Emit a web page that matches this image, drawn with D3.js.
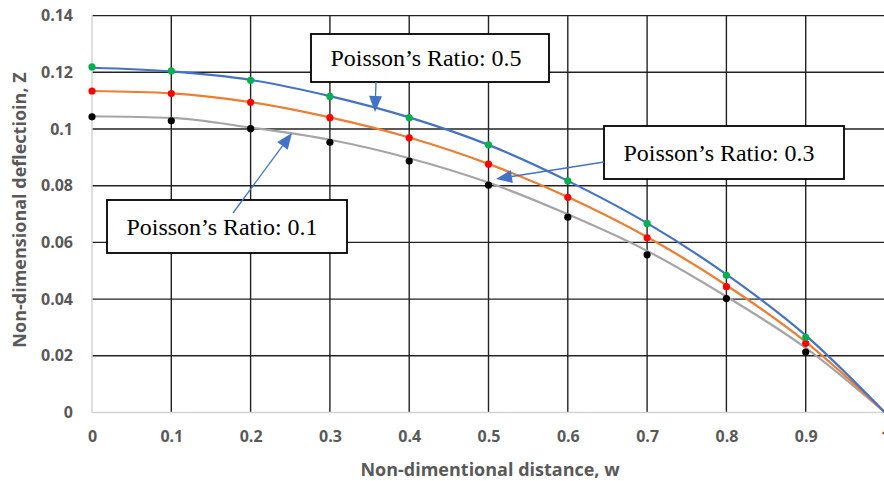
<!DOCTYPE html>
<html>
<head>
<meta charset="utf-8">
<script src="https://cdn.jsdelivr.net/npm/d3@7/dist/d3.min.js"></script>
<style>
  html, body { margin: 0; padding: 0; background: #fff; }
  svg { display: block; }
</style>
</head>
<body>
<svg id="chart" width="884" height="481"></svg>
<script>
// Sample positions along the plate (non-dimensional distance w)
const wValues = [0, 0.1, 0.2, 0.3, 0.4, 0.5, 0.6, 0.7, 0.8, 0.9, 1.0];

// Computed deflection points (markers), one series per Poisson's ratio
const pointsNu05 = [0.1219, 0.1205, 0.1172, 0.1115, 0.1040, 0.0944, 0.0817, 0.0667, 0.0484, 0.0265];
const pointsNu03 = [0.1134, 0.1125, 0.1094, 0.1040, 0.0969, 0.0876, 0.0759, 0.0616, 0.0444, 0.0244];
const pointsNu01 = [0.1043, 0.1029, 0.1001, 0.0953, 0.0887, 0.0802, 0.0689, 0.0556, 0.0402, 0.0213];

// Smooth deflection curves, ending at zero on the edge w = 1
const curveNu05 = [0.1216, 0.1203, 0.1173, 0.1116, 0.1041, 0.0944, 0.0817, 0.0668, 0.0487, 0.0272, 0];
const curveNu03 = [0.1134, 0.1126, 0.1095, 0.1041, 0.0970, 0.0877, 0.0760, 0.0619, 0.0449, 0.0249, 0];
const curveNu01 = [0.1045, 0.1039, 0.1005, 0.0962, 0.0897, 0.0811, 0.0699, 0.0570, 0.0409, 0.0228, 0];

// Axis ticks
const xTicks = [0, 0.1, 0.2, 0.3, 0.4, 0.5, 0.6, 0.7, 0.8, 0.9, 1];
const yTicks = [0, 0.02, 0.04, 0.06, 0.08, 0.1, 0.12, 0.14];

// Annotation texts
const labelTexts = ["Poisson\u2019s Ratio: 0.5", "Poisson\u2019s Ratio: 0.3", "Poisson\u2019s Ratio: 0.1"];

const svg = d3.select("#chart");
const plot = { left: 92, right: 885, top: 15.6, bottom: 412.5 };

const x = d3.scaleLinear().domain([0, 1]).range([plot.left, plot.right]);
const y = d3.scaleLinear().domain([0, 0.14]).range([plot.bottom, plot.top]);

const gridColor = "#222";
const axisColor = "#d4d4d4";
const textColor = "#595959";
const tickFont = "'Open Sans', sans-serif";

// Horizontal grid
svg.append("g").selectAll("line")
  .data(yTicks.filter(d => d > 0))
  .join("line")
  .attr("x1", plot.left).attr("x2", plot.right)
  .attr("y1", d => y(d)).attr("y2", d => y(d))
  .attr("stroke", gridColor).attr("stroke-width", 1.4);

// Vertical grid
svg.append("g").selectAll("line")
  .data(xTicks.filter(d => d > 0))
  .join("line")
  .attr("x1", d => x(d)).attr("x2", d => x(d))
  .attr("y1", plot.top).attr("y2", plot.bottom)
  .attr("stroke", gridColor).attr("stroke-width", 1.4);

// Axis lines (light)
svg.append("line")
  .attr("x1", x(0)).attr("x2", x(0)).attr("y1", plot.top - 0.5).attr("y2", plot.bottom)
  .attr("stroke", axisColor).attr("stroke-width", 1.5);
svg.append("line")
  .attr("x1", x(0)).attr("x2", plot.right).attr("y1", y(0)).attr("y2", y(0))
  .attr("stroke", axisColor).attr("stroke-width", 1.5);

// Y tick labels
const yAxis = d3.axisLeft(y).tickValues(yTicks).tickSize(0).tickPadding(19)
  .tickFormat(d => d3.format("~g")(d));
svg.append("g")
  .attr("transform", `translate(${plot.left},0)`)
  .call(yAxis)
  .call(g => g.select(".domain").remove())
  .call(g => g.selectAll("text")
    .attr("fill", textColor).attr("font-family", tickFont)
    .attr("font-weight", 700).attr("font-size", 16));

// X tick labels
const xAxis = d3.axisBottom(x).tickValues(xTicks).tickSize(0).tickPadding(18)
  .tickFormat(d => d3.format("~g")(d));
svg.append("g")
  .attr("transform", `translate(0,${plot.bottom})`)
  .call(xAxis)
  .call(g => g.select(".domain").remove())
  .call(g => g.selectAll("text")
    .attr("fill", textColor).attr("font-family", tickFont)
    .attr("font-weight", 700).attr("font-size", 16));

// Axis titles
svg.append("text")
  .attr("x", 490).attr("y", 476)
  .attr("text-anchor", "middle")
  .attr("fill", textColor).attr("font-family", tickFont)
  .attr("font-weight", 700).attr("font-size", 18)
  .text("Non-dimentional distance, w");

svg.append("text")
  .attr("transform", "translate(26,210) rotate(-90)")
  .attr("text-anchor", "middle")
  .attr("fill", textColor).attr("font-family", tickFont)
  .attr("font-weight", 700).attr("font-size", 18)
  .text("Non-dimensional deflectioin, Z");

// Curves
const line = d3.line()
  .x((d, i) => x(wValues[i]))
  .y(d => y(d))
  .curve(d3.curveMonotoneX);

const curveSeries = [
  { values: curveNu01, color: "#a5a5a5" },
  { values: curveNu03, color: "#ed7d31" },
  { values: curveNu05, color: "#4472c4" }
];
svg.append("g").selectAll("path")
  .data(curveSeries)
  .join("path")
  .attr("d", d => line(d.values))
  .attr("fill", "none")
  .attr("stroke", d => d.color)
  .attr("stroke-width", 2.2);

// Markers
const pointSeries = [
  { values: pointsNu01, color: "#000000" },
  { values: pointsNu03, color: "#ff0000" },
  { values: pointsNu05, color: "#00b050" }
];
pointSeries.forEach(s => {
  svg.append("g").selectAll("circle")
    .data(s.values)
    .join("circle")
    .attr("cx", (d, i) => x(wValues[i]))
    .attr("cy", d => y(d))
    .attr("r", 3.6)
    .attr("fill", s.color);
});

// Callout boxes with arrows
const callouts = [
  { text: labelTexts[0], box: [311, 34, 238, 48], arrow: [[376, 82], [375, 112]] },
  { text: labelTexts[1], box: [604, 126, 240, 53], arrow: [[604, 162], [496, 179]] },
  { text: labelTexts[2], box: [107, 200, 240, 53], arrow: [[233, 213], [292, 133]] }
];

const arrowColor = "#4472c4";
callouts.forEach(c => {
  const [bx, by, bw, bh] = c.box;
  svg.append("rect")
    .attr("x", bx).attr("y", by).attr("width", bw).attr("height", bh)
    .attr("fill", "#fff").attr("stroke", "#000").attr("stroke-width", 1.8);
  svg.append("text")
    .attr("x", bx + 19.5).attr("y", by + bh / 2 + 8)
    .attr("textLength", 191).attr("lengthAdjust", "spacingAndGlyphs")
    .attr("font-family", "'Liberation Serif', 'Times New Roman', serif")
    .attr("font-size", 23.5).attr("fill", "#000")
    .text(c.text);
});

callouts.forEach(c => {
  const [[x0, y0], [x1, y1]] = c.arrow;
  const dx = x1 - x0, dy = y1 - y0;
  const len = Math.hypot(dx, dy);
  const ux = dx / len, uy = dy / len;
  const headLen = 16, headHalf = 6.5;
  const bxp = x1 - ux * headLen, byp = y1 - uy * headLen;
  svg.append("line")
    .attr("x1", x0).attr("y1", y0).attr("x2", bxp).attr("y2", byp)
    .attr("stroke", arrowColor).attr("stroke-width", 1.3);
  svg.append("path")
    .attr("d", `M${x1},${y1}L${bxp - uy * headHalf},${byp + ux * headHalf}L${bxp + uy * headHalf},${byp - ux * headHalf}Z`)
    .attr("fill", arrowColor);
});
</script>
</body>
</html>
